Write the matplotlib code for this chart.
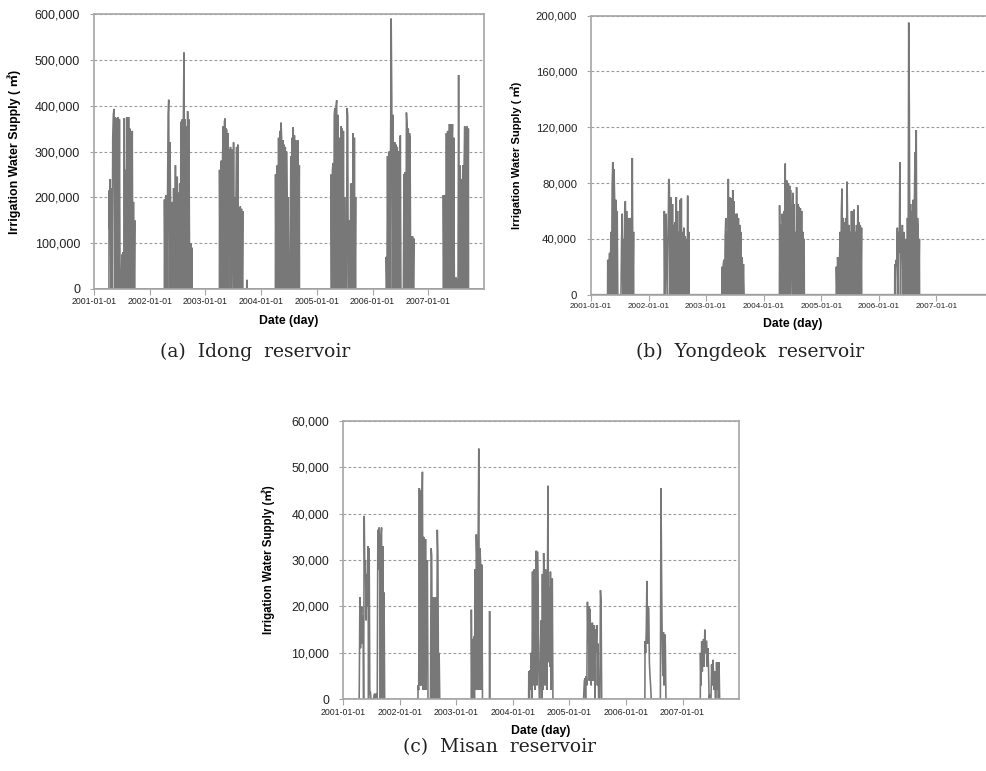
import numpy as np
import pandas as pd
import matplotlib
matplotlib.use("Agg")
import matplotlib.pyplot as plt
import matplotlib.dates as mdates
from matplotlib.ticker import FuncFormatter, MultipleLocator

STEP_DAYS = 4  # one value every 4 days inside an irrigation season

# values in 1,000 m3
idong_starts = ["2001-04-10", "2002-04-08", "2003-04-04", "2003-09-30",
                "2004-04-05", "2005-04-05", "2006-04-01", "2007-04-10"]
idong_values = [
    [215, 130, 240, 0, 220, 0, 330, 380, 393, 0, 375, 370, 0, 372, 0, 375, 0, 370, 0, 0, 0,
     75, 0, 80, 0, 373, 0, 260, 0, 375, 260, 0, 375, 0, 350, 0, 340, 0, 345, 0, 190, 0, 150],
    [195, 0, 200, 205, 0, 190, 380, 413, 0, 320, 190, 0, 190, 0, 0, 220, 80, 0, 270, 0, 200,
     245, 0, 210, 0, 230, 0, 365, 0, 370, 0, 370, 516, 0, 370, 0, 355, 0, 388, 0, 370, 100,
     0, 100, 0, 90],
    [260, 0, 265, 280, 0, 290, 355, 0, 365, 372, 0, 350, 345, 0, 340, 0, 305, 75, 310, 0, 305,
     165, 0, 320, 0, 200, 0, 210, 310, 0, 315, 0, 175, 0, 180, 0, 175, 0, 170],
    [20],
    [250, 0, 255, 270, 0, 330, 0, 345, 0, 363, 330, 0, 325, 0, 315, 0, 310, 0, 300, 200, 0,
     200, 0, 0, 0, 290, 0, 330, 0, 353, 0, 335, 0, 325, 0, 320, 0, 325, 0, 270],
    [250, 0, 260, 275, 0, 380, 395, 0, 400, 412, 0, 380, 0, 320, 330, 0, 355, 0, 350, 0, 345,
     0, 200, 0, 0, 0, 395, 380, 0, 0, 150, 0, 230, 0, 230, 0, 340, 0, 330, 0, 200],
    [70, 0, 290, 0, 295, 300, 0, 300, 590, 420, 0, 380, 120, 0, 320, 0, 315, 0, 310, 0, 300,
     175, 0, 335, 0, 0, 0, 0, 0, 250, 0, 255, 0, 385, 360, 0, 350, 0, 340, 330, 0, 115, 0,
     115, 0, 110],
    [205, 0, 200, 205, 0, 340, 0, 345, 300, 0, 360, 0, 360, 0, 300, 360, 0, 330, 25, 0, 20,
     25, 0, 20, 0, 467, 0, 270, 0, 240, 0, 190, 270, 0, 270, 355, 0, 350, 0, 355, 0, 350],
]

yongdeok_starts = ["2001-04-17", "2002-04-11", "2003-04-12", "2004-04-11",
                   "2005-04-06", "2006-04-12"]
yongdeok_values = [
    [25, 0, 22, 30, 0, 45, 0, 77, 95, 0, 90, 68, 0, 68, 0, 60, 0, 0, 0, 0, 0, 0, 40, 58, 0,
     40, 0, 62, 67, 0, 60, 0, 55, 40, 0, 55, 0, 55, 0, 98, 0, 45],
    [60, 0, 50, 58, 15, 0, 40, 83, 78, 0, 70, 63, 0, 65, 0, 50, 0, 52, 0, 70, 0, 60, 0, 45,
     0, 68, 0, 69, 0, 45, 0, 48, 0, 42, 0, 40, 0, 71, 0, 45],
    [20, 0, 22, 25, 0, 42, 55, 0, 45, 0, 83, 0, 70, 60, 0, 69, 0, 75, 0, 67, 30, 0, 58, 0,
     58, 0, 55, 0, 50, 0, 45, 0, 27, 0, 22, 0],
    [64, 0, 50, 0, 58, 52, 0, 60, 0, 94, 0, 82, 80, 0, 80, 0, 78, 0, 75, 40, 0, 73, 0, 65,
     0, 45, 0, 77, 0, 65, 0, 63, 0, 62, 0, 60, 0, 45, 0, 40],
    [20, 0, 27, 15, 0, 25, 45, 0, 60, 76, 0, 55, 0, 52, 0, 55, 0, 81, 50, 0, 50, 0, 45, 0,
     60, 0, 60, 0, 61, 0, 45, 0, 50, 0, 64, 0, 52, 0, 50, 0, 48],
    [22, 0, 25, 20, 48, 0, 45, 30, 95, 0, 42, 25, 50, 0, 45, 42, 0, 40, 20, 0, 55, 0, 195,
     135, 0, 65, 0, 60, 0, 68, 0, 65, 102, 0, 118, 0, 55, 47, 0, 40],
]

misan_starts = ["2001-04-14", "2002-04-29", "2003-04-08", "2003-08-04", "2004-04-13",
                "2005-04-03", "2006-05-04", "2006-08-11", "2007-04-27"]
misan_values = [
    [2, 22, 11, 17, 20, 12, 18, 0, 39.5, 27, 30, 17, 27, 20, 33, 0, 32.5, 1.5, 1.5, 0, 0, 0,
     0, 0, 1, 1.2, 0, 1.2, 0, 0, 36.5, 28, 37, 30, 0, 35, 37, 0, 33, 0, 23, 0],
    [3, 2, 45.5, 3, 45, 3, 40, 49, 2, 35, 20, 2, 34.5, 2, 27, 30, 0, 0, 0, 0, 0, 32.5, 31,
     0, 22, 0, 22, 11, 0, 22, 0, 36.5, 31, 0, 10, 0],
    [19.3, 0, 13, 0, 13.5, 0, 28, 2, 35.5, 30, 2, 35, 54, 2, 32.5, 29, 2, 29, 0],
    [19],
    [6, 0, 6.3, 2, 10, 0, 27.5, 3, 27, 28, 2, 26.5, 32, 3, 31.8, 25, 8, 0, 0, 12, 17, 0,
     27, 2, 31.5, 22, 3, 28, 25, 2, 22, 46, 8, 24, 7, 27.5, 2, 25, 26, 0],
    [1, 4, 4.5, 0, 5, 3, 21, 12, 20, 4, 19.5, 15, 3, 13, 16.5, 4, 14, 16, 0, 15, 10, 16, 3,
     12, 0, 0, 0, 23.5, 21, 0],
    [12.5, 10, 15, 25.5, 12, 20, 19.5, 8, 5, 3, 0],
    [0, 45.5, 26, 12, 5, 14.5, 3, 14, 12, 0],
    [10, 3, 12.5, 6, 11, 13, 7, 15, 10, 12.5, 12.5, 7, 11, 7, 0, 1, 0, 0, 7.5, 3, 8.5, 6, 2,
     6, 0, 0, 8, 2, 8, 0, 8, 0],
]

year_ticks = ["2001-01-01", "2002-01-01", "2003-01-01", "2004-01-01",
              "2005-01-01", "2006-01-01", "2007-01-01"]

LINE = "#787878"
FRAME = "#a6a6a6"
SANS = ["Liberation Sans", "Noto Sans CJK KR", "DejaVu Sans"]


def build_series(starts, values):
    xs = [pd.Timestamp("2001-01-01")]
    ys = [0.0]
    for start, season in zip(starts, values):
        t0 = pd.Timestamp(start)
        xs.append(t0 - pd.Timedelta(days=1))
        ys.append(0.0)
        for i, v in enumerate(season):
            xs.append(t0 + pd.Timedelta(days=STEP_DAYS * i))
            ys.append(v * 1000)
        xs.append(xs[-1] + pd.Timedelta(days=1))
        ys.append(0.0)
    xs.append(pd.Timestamp("2007-12-31"))
    ys.append(0.0)
    return xs, ys


def style_axis(ax, ymax, ystep, ylabel, sizes):
    ytick_size, xtick_size, ylab_size, ylab_pad = sizes
    ax.set_xlim(pd.Timestamp("2001-01-01"), pd.Timestamp("2008-01-01"))
    ax.set_ylim(0, ymax)
    ax.yaxis.set_major_locator(MultipleLocator(ystep))
    ax.yaxis.set_major_formatter(FuncFormatter(lambda v, p: f"{int(v):,}"))
    ax.set_xticks([pd.Timestamp(t) for t in year_ticks])
    ax.xaxis.set_major_formatter(mdates.DateFormatter("%Y-%m-%d"))
    ax.grid(axis="y", linestyle=(0, (2.5, 2)), color="#9a9a9a", linewidth=0.8)
    ax.set_axisbelow(True)
    for sp in ax.spines.values():
        sp.set_color(FRAME)
        sp.set_linewidth(1.2)
    ax.tick_params(axis="x", direction="out", length=4, color=FRAME, labelsize=xtick_size,
                   labelcolor="#222222", pad=2)
    ax.tick_params(axis="y", direction="out", length=3, color=FRAME, labelsize=ytick_size,
                   labelcolor="#222222", pad=7)
    for lab in ax.get_xticklabels() + ax.get_yticklabels():
        lab.set_family(SANS)
    ax.set_ylabel(ylabel, family=SANS, fontweight="bold", fontsize=ylab_size,
                  labelpad=ylab_pad)
    ax.set_xlabel("Date (day)", family=SANS, fontweight="bold", fontsize=8.8, labelpad=6)


fig = plt.figure(figsize=(9.86, 7.71), dpi=100)

panels = [
    ([0.0953, 0.6252, 0.3955, 0.3566], idong_starts, idong_values, 600000, 100000,
     "Irrigation Water Supply ( \u33a5)", (9.0, 6.3, 8.9, 10)),
    ([0.5994, 0.6178, 0.4087, 0.3619], yongdeok_starts, yongdeok_values, 200000, 40000,
     "Irrigation Water Supply ( \u33a5)", (8.2, 5.9, 8.0, 10)),
    ([0.3482, 0.0930, 0.4013, 0.3613], misan_starts, misan_values, 60000, 10000,
     "Irrigation Water Supply (\u33a5)", (8.9, 6.3, 8.3, 12)),
]

for rect, starts, values, ymax, ystep, ylabel, sizes in panels:
    ax = fig.add_axes(rect)
    xs, ys = build_series(starts, values)
    ax.plot(xs, ys, color=LINE, linewidth=1.15, solid_joinstyle="miter")
    style_axis(ax, ymax, ystep, ylabel, sizes)

captions = [(0.259, 0.543, "(a)  Idong  reservoir"),
            (0.761, 0.543, "(b)  Yongdeok  reservoir"),
            (0.507, 0.031, "(c)  Misan  reservoir")]
for x, y, txt in captions:
    fig.text(x, y, txt, ha="center", va="center", fontsize=13.5,
             family="DejaVu Serif", color="#222222")

fig.savefig("out.png", dpi=100)
